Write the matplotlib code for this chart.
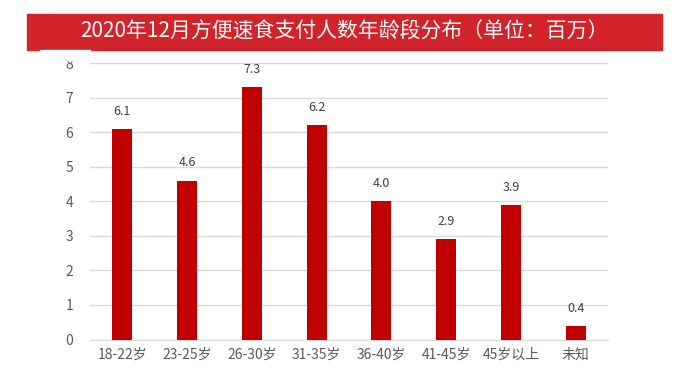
import matplotlib.pyplot as plt
from matplotlib.patches import Rectangle

plt.rcParams['font.family'] = ['Noto Sans CJK SC', 'DejaVu Sans']

categories = ['18-22岁', '23-25岁', '26-30岁', '31-35岁', '36-40岁', '41-45岁', '45岁以上', '未知']
values = [6.1, 4.6, 7.3, 6.2, 4.0, 2.9, 3.9, 0.4]
title = '2020年12月方便速食支付人数年龄段分布（单位：百万）'

fig = plt.figure(figsize=(6.76, 3.88), dpi=100)
ax = fig.add_axes([0.1331, 0.125, 0.7663, 0.7126])

x = range(len(categories))
ax.bar(x, values, width=0.31, color='#C00000', zorder=3)
for i, v in zip(x, values):
    ax.annotate(f'{v:.1f}', (i, v), xytext=(0, 8), textcoords='offset points',
                ha='center', va='bottom', fontsize=9, color='#404040')

ax.set_xlim(-0.5, len(categories) - 0.5)
ax.set_ylim(0, 8)
ax.set_yticks(range(9))
ax.set_xticks(list(x))
ax.set_xticklabels(categories)
ax.grid(axis='y', color='#D9D9D9', linewidth=1, zorder=0)
for s in ['top', 'right', 'left']:
    ax.spines[s].set_visible(False)
ax.spines['bottom'].set_color('#D9D9D9')
ax.tick_params(axis='both', length=0, labelsize=10, colors='#595959')
ax.tick_params(axis='y', pad=12)
ax.tick_params(axis='x', pad=6)

# title banner
fig.patches.append(Rectangle((27 / 676, 1 - 50 / 388), 635 / 676, 36 / 388,
                             transform=fig.transFigure, color='#D0232A', zorder=0))
fig.text(344 / 676, 1 - 32 / 388, title, ha='center', va='center',
         fontsize=15, color='white')
# top tick label is cut off in the original
fig.patches.append(Rectangle((40 / 676, 1 - 60 / 388), 50 / 676, 10 / 388,
                             transform=fig.transFigure, color='white', zorder=10))

fig.savefig('out.png', dpi=100)
